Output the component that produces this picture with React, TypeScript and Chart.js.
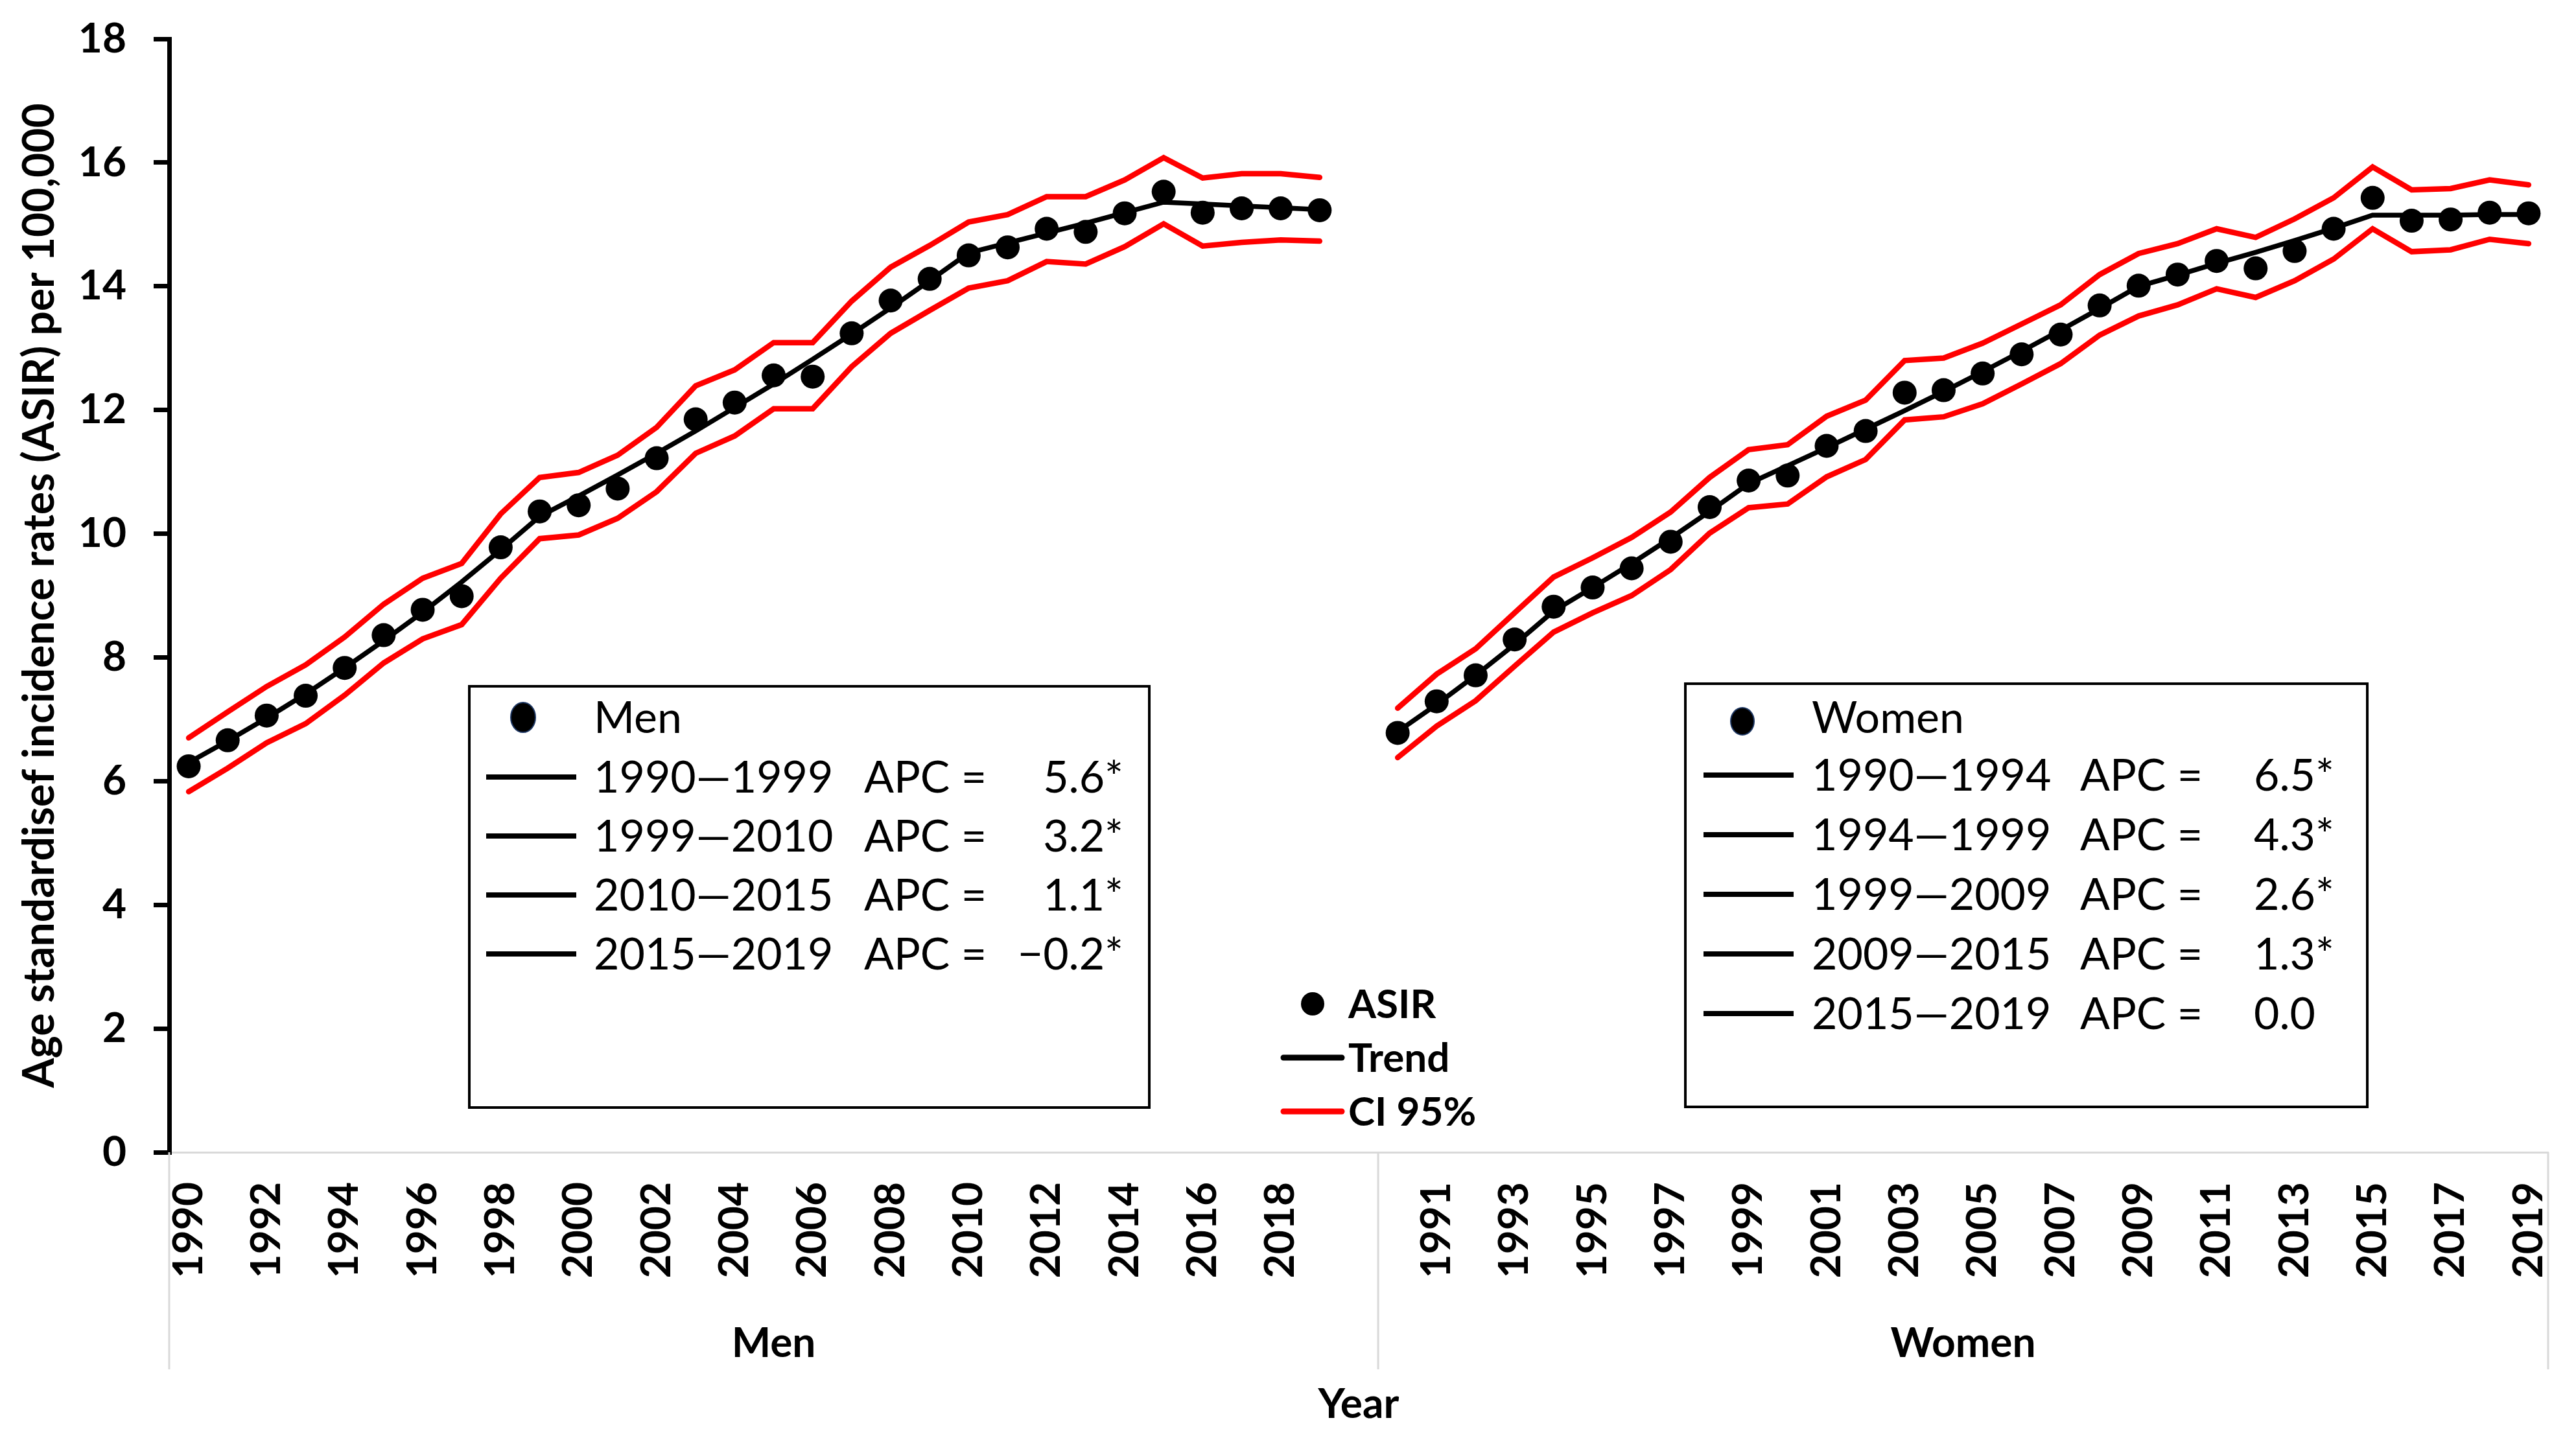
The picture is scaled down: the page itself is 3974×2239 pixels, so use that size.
import React, { useEffect, useRef } from 'react';
import { Chart, registerables } from 'chart.js';

Chart.register(...registerables);

// ---------------- DATA ----------------
const years = ['1990', '1991', '1992', '1993', '1994', '1995', '1996', '1997', '1998', '1999',
  '2000', '2001', '2002', '2003', '2004', '2005', '2006', '2007', '2008', '2009',
  '2010', '2011', '2012', '2013', '2014', '2015', '2016', '2017', '2018', '2019'];

const groups = ['Men', 'Women'];

const menShownTicks = ['1990', '1992', '1994', '1996', '1998', '2000', '2002', '2004', '2006', '2008',
  '2010', '2012', '2014', '2016', '2018'];
const womenShownTicks = ['1991', '1993', '1995', '1997', '1999', '2001', '2003', '2005', '2007', '2009',
  '2011', '2013', '2015', '2017', '2019'];

const menAsir = [6.24, 6.66, 7.06, 7.38, 7.83, 8.36, 8.77, 8.99, 9.78, 10.36,
  10.46, 10.73, 11.22, 11.85, 12.12, 12.56, 12.54, 13.24, 13.77, 14.12,
  14.50, 14.63, 14.93, 14.88, 15.18, 15.53, 15.19, 15.26, 15.26, 15.23];
const menTrend = [6.30, 6.65, 7.02, 7.41, 7.83, 8.27, 8.73, 9.22, 9.74, 10.28,
  10.61, 10.95, 11.30, 11.66, 12.04, 12.42, 12.82, 13.23, 13.65, 14.09,
  14.54, 14.70, 14.86, 15.02, 15.19, 15.36, 15.33, 15.30, 15.27, 15.24];
const menUpper = [6.70, 7.12, 7.53, 7.88, 8.33, 8.86, 9.28, 9.52, 10.32, 10.91,
  10.99, 11.27, 11.72, 12.39, 12.65, 13.09, 13.09, 13.76, 14.31, 14.66,
  15.04, 15.16, 15.45, 15.45, 15.72, 16.08, 15.75, 15.82, 15.82, 15.76];
const menLower = [5.83, 6.21, 6.62, 6.93, 7.39, 7.91, 8.30, 8.53, 9.28, 9.92,
  9.98, 10.25, 10.68, 11.30, 11.58, 12.02, 12.02, 12.70, 13.24, 13.61,
  13.97, 14.09, 14.40, 14.36, 14.64, 15.01, 14.65, 14.71, 14.75, 14.73];

const womenAsir = [6.78, 7.29, 7.71, 8.29, 8.82, 9.13, 9.44, 9.87, 10.43, 10.86,
  10.94, 11.42, 11.66, 12.28, 12.32, 12.59, 12.90, 13.22, 13.69, 14.01,
  14.19, 14.41, 14.29, 14.57, 14.93, 15.43, 15.06, 15.08, 15.19, 15.18];
const womenTrend = [6.80, 7.24, 7.71, 8.21, 8.75, 9.13, 9.52, 9.93, 10.36, 10.81,
  11.10, 11.39, 11.69, 11.99, 12.30, 12.62, 12.95, 13.29, 13.64, 14.00,
  14.18, 14.37, 14.55, 14.74, 14.94, 15.15, 15.15, 15.15, 15.16, 15.16];
const womenUpper = [7.18, 7.73, 8.14, 8.72, 9.30, 9.61, 9.94, 10.35, 10.91, 11.36,
  11.44, 11.90, 12.16, 12.80, 12.84, 13.08, 13.39, 13.70, 14.19, 14.53,
  14.69, 14.93, 14.79, 15.09, 15.43, 15.93, 15.56, 15.58, 15.72, 15.64];
const womenLower = [6.38, 6.89, 7.30, 7.86, 8.41, 8.72, 9.00, 9.42, 10.01, 10.42,
  10.48, 10.92, 11.20, 11.84, 11.89, 12.10, 12.42, 12.75, 13.21, 13.52,
  13.70, 13.96, 13.82, 14.09, 14.44, 14.93, 14.56, 14.59, 14.76, 14.69];

const yTicks = [0, 2, 4, 6, 8, 10, 12, 14, 16, 18];

const menSegments = ['1990\u20141999', '1999\u20142010', '2010\u20142015', '2015\u20142019'];
const menApc = ['5.6*', '3.2*', '1.1*', '\u22120.2*'];
const womenSegments = ['1990\u20141994', '1994\u20141999', '1999\u20142009', '2009\u20142015', '2015\u20142019'];
const womenApc = ['6.5*', '4.3*', '2.6*', '1.3*', '0.0'];
const keyLabels = ['ASIR', 'Trend', 'CI 95%'];

const yAxisTitle = 'Age standardisef incidence rates (ASIR) per 100,000';
const xAxisTitle = 'Year';

// ---------------- BUILD ----------------
const FONT = 'Lato, "Open Sans", "DejaVu Sans", sans-serif';
const labels = [...years, '', ...years];
const join = (m: number[], w: number[]) => [...m, null, ...w];
const menCount = years.length + 1; // includes blank spacer category

const zeroPadding = (s: any) => {
  s.paddingTop = 0;
  s.paddingBottom = 0;
  s.paddingLeft = 0;
  s.paddingRight = 0;
};

const decorPlugin = {
  id: 'decor',
  afterDraw(chart: any) {
    const { ctx, chartArea: ca, scales } = chart;
    const xs = scales.x;
    const sx = ca.width / 3670;
    const sy = ca.height / 1718;
    const X = (v: number) => ca.left + (v - 261) * sx;
    const Y = (v: number) => ca.top + (v - 60) * sy;
    const w = xs.getPixelForValue(1) - xs.getPixelForValue(0);
    const edge = (i: number) => xs.getPixelForValue(0) - w / 2 + i * w;

    const text = (s: string, x: number, cy: number, size: number, weight: string, align: CanvasTextAlign = 'left') => {
      ctx.font = `${weight} ${size}px ${FONT}`;
      ctx.textAlign = align;
      ctx.textBaseline = 'alphabetic';
      ctx.fillStyle = '#000';
      ctx.fillText(s, x, cy + size * 0.36);
    };
    const seg = (x1: number, x2: number, y: number, color: string, lw: number, cap: CanvasLineCap = 'butt') => {
      ctx.beginPath();
      ctx.strokeStyle = color;
      ctx.lineWidth = lw;
      ctx.lineCap = cap;
      ctx.moveTo(x1, y);
      ctx.lineTo(x2, y);
      ctx.stroke();
    };
    const marker = (x: number, y: number, rx: number, ry: number) => {
      ctx.beginPath();
      ctx.ellipse(x, y, rx, ry, 0, 0, Math.PI * 2);
      ctx.fillStyle = '#000';
      ctx.fill();
      ctx.strokeStyle = '#1f3864';
      ctx.lineWidth = 2;
      ctx.stroke();
    };

    ctx.save();
    // group dividers below axis
    const bounds = [0, menCount, labels.length];
    bounds.forEach((b) => {
      ctx.beginPath();
      ctx.strokeStyle = '#d9d9d9';
      ctx.lineWidth = 3;
      ctx.lineCap = 'butt';
      ctx.moveTo(edge(b), ca.bottom);
      ctx.lineTo(edge(b), Y(2113));
      ctx.stroke();
    });
    groups.forEach((g, i) => {
      const cx = (edge(bounds[i]) + edge(bounds[i + 1])) / 2;
      text(g, cx, Y(2071), 64, 'bold', 'center');
    });

    const LF = 68;
    // Men legend box
    {
      const l = X(724), t = Y(1059), r = X(1773), b = Y(1709);
      ctx.fillStyle = '#fff';
      ctx.fillRect(l, t, r - l, b - t);
      ctx.strokeStyle = '#000';
      ctx.lineWidth = 4;
      ctx.strokeRect(l, t, r - l, b - t);
      marker(X(807), Y(1107), 19, 23);
      text(groups[0], X(916), Y(1107), LF, 'normal');
      menSegments.forEach((s, i) => {
        const y = Y(1199 + i * 91);
        seg(X(750), X(889), y, '#000', 8);
        text(s, X(916), y, LF, 'normal');
        text('APC =', X(1333), y, LF, 'normal');
        text(menApc[i], X(1733), y, LF, 'normal', 'right');
      });
    }
    // Women legend box
    {
      const l = X(2600), t = Y(1055), r = X(3652), b = Y(1708);
      ctx.fillStyle = '#fff';
      ctx.fillRect(l, t, r - l, b - t);
      ctx.strokeStyle = '#000';
      ctx.lineWidth = 4;
      ctx.strokeRect(l, t, r - l, b - t);
      marker(X(2688), Y(1113), 18, 21);
      text(groups[1], X(2795), Y(1107), LF, 'normal');
      womenSegments.forEach((s, i) => {
        const y = Y(1196 + i * 92);
        seg(X(2628), X(2767), y, '#000', 8);
        text(s, X(2795), y, LF, 'normal');
        text('APC =', X(3209), y, LF, 'normal');
        text(womenApc[i], X(3477), y, LF, 'normal');
      });
    }
    // Key legend (ASIR / Trend / CI 95%)
    {
      ctx.beginPath();
      ctx.arc(X(2025), Y(1549), 18, 0, Math.PI * 2);
      ctx.fillStyle = '#000';
      ctx.fill();
      text(keyLabels[0], X(2080), Y(1549), 62, 'bold');
      seg(X(1980), X(2070), Y(1632), '#000', 9, 'round');
      text(keyLabels[1], X(2080), Y(1632), 62, 'bold');
      seg(X(1980), X(2070), Y(1715), '#ff0000', 9, 'round');
      text(keyLabels[2], X(2080), Y(1715), 62, 'bold');
    }
    ctx.restore();
  },
};

export default function App() {
  const ref = useRef<HTMLCanvasElement | null>(null);

  useEffect(() => {
    let chart: Chart | null = null;
    let cancelled = false;
    const make = () => {
      if (cancelled || !ref.current) return;
      chart = new Chart(ref.current, {
        type: 'line',
        data: {
          labels,
          datasets: [
            {
              label: 'ASIR',
              data: join(menAsir, womenAsir),
              showLine: false,
              pointRadius: 18.5,
              pointHoverRadius: 18.5,
              pointBackgroundColor: '#000',
              pointBorderWidth: 0,
              borderColor: '#000',
            },
            {
              label: 'Trend',
              data: join(menTrend, womenTrend),
              borderColor: '#000',
              borderWidth: 7.5,
              pointRadius: 0,
              tension: 0,
              borderCapStyle: 'round',
            },
            {
              label: 'CI upper',
              data: join(menUpper, womenUpper),
              borderColor: '#ff0000',
              borderWidth: 8.5,
              pointRadius: 0,
              tension: 0,
              borderCapStyle: 'round',
            },
            {
              label: 'CI lower',
              data: join(menLower, womenLower),
              borderColor: '#ff0000',
              borderWidth: 8.5,
              pointRadius: 0,
              tension: 0,
              borderCapStyle: 'round',
            },
          ],
        } as any,
        options: {
          animation: false,
          responsive: true,
          maintainAspectRatio: false,
          layout: { padding: { top: 60, right: 43, left: 0, bottom: 0 } },
          plugins: {
            legend: { display: false },
            tooltip: { enabled: false },
            title: { display: false },
          },
          scales: {
            x: {
              type: 'category',
              offset: true,
              grid: { display: false, drawTicks: false },
              border: { display: true, color: '#d9d9d9', width: 3 },
              ticks: {
                autoSkip: false,
                maxRotation: 90,
                minRotation: 90,
                padding: 46,
                color: '#000',
                font: { family: FONT, size: 64, weight: 'bold' },
                callback: (_v: any, index: number) => {
                  if (index < years.length) {
                    return menShownTicks.includes(years[index]) ? years[index] : '';
                  }
                  if (index < menCount) return '';
                  const y = years[index - menCount];
                  return womenShownTicks.includes(y) ? y : '';
                },
              },
              title: {
                display: true,
                text: xAxisTitle,
                color: '#000',
                font: { family: FONT, size: 64, weight: 'bold' },
                padding: { top: 0, bottom: 33 },
              },
              afterFit: (s: any) => {
                s.height = 461;
                zeroPadding(s);
              },
            },
            y: {
              min: yTicks[0],
              max: yTicks[yTicks.length - 1],
              afterBuildTicks: (s: any) => {
                s.ticks = yTicks.map((v) => ({ value: v }));
              },
              ticks: {
                padding: 42,
                color: '#000',
                font: { family: FONT, size: 64, weight: 'bold' },
              },
              grid: {
                drawOnChartArea: false,
                drawTicks: true,
                tickLength: 24,
                color: '#000',
                lineWidth: 7,
              },
              border: { display: true, color: '#000', width: 7 },
              title: {
                display: true,
                text: yAxisTitle,
                color: '#000',
                font: { family: FONT, size: 66, weight: 'bold' },
                padding: { top: 22, bottom: 0 },
              },
              afterFit: (s: any) => {
                s.width = 261;
                zeroPadding(s);
              },
            },
          },
        } as any,
        plugins: [decorPlugin],
      });
    };
    const fonts = (document as any).fonts;
    if (fonts && fonts.load) {
      Promise.all([fonts.load(`bold 60px Lato`), fonts.load(`60px Lato`)]).then(make, make);
    } else {
      make();
    }
    return () => {
      cancelled = true;
      if (chart) chart.destroy();
    };
  }, []);

  return (
    <div style={{ position: 'fixed', left: 0, top: 0, width: '3974px', height: '2239px', background: '#fff' }}>
      <canvas ref={ref} />
    </div>
  );
}
